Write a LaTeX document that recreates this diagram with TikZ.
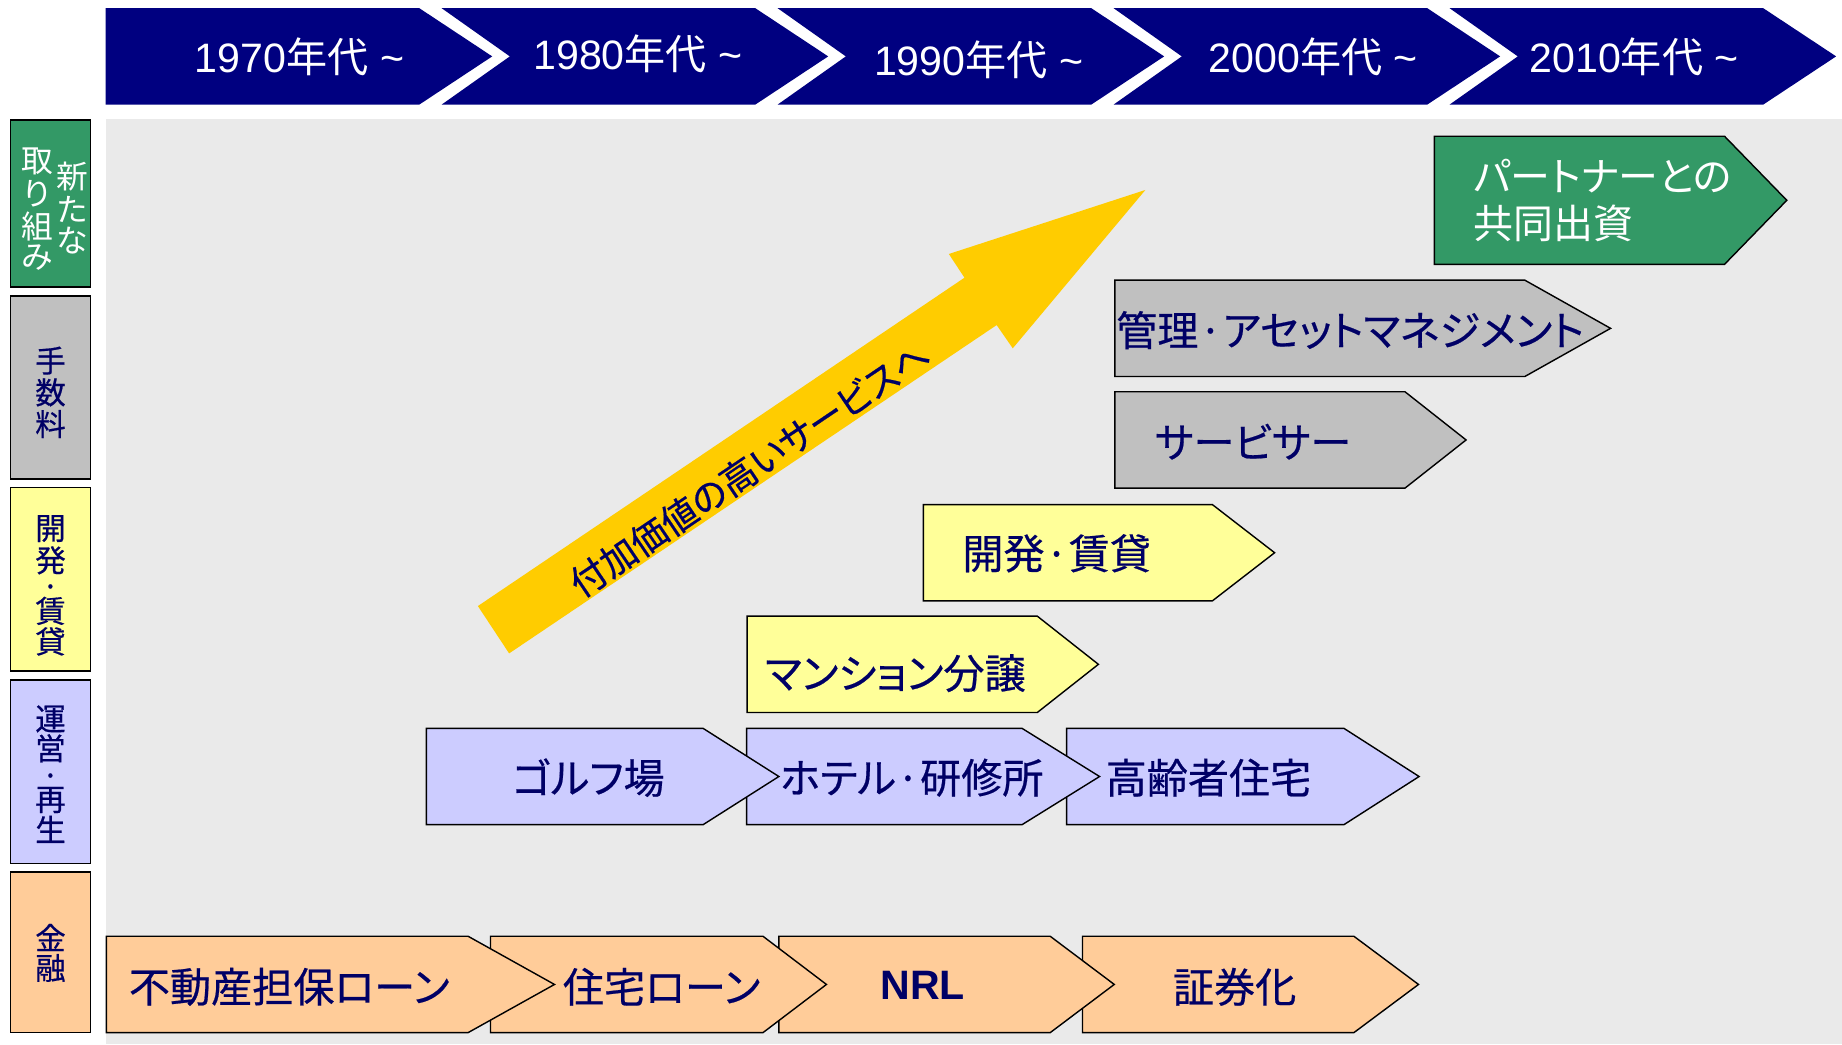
\documentclass[tikz,border=0pt]{standalone}
\usepackage{fontspec}
\newfontfamily\jp[RawFeature=+palt]{Noto Sans CJK JP}
\newfontfamily\jpb[RawFeature=+palt,FakeBold=0.5]{Noto Sans CJK JP}
\newfontfamily\jpv[FakeBold=0.5]{Noto Sans CJK JP}
\newfontfamily\jpw{Noto Sans CJK JP}
\newfontfamily\arl{Liberation Sans}
\definecolor{navy}{HTML}{000080}
\definecolor{txt}{HTML}{000066}
\definecolor{bgg}{HTML}{EAEAEA}
\definecolor{grn}{HTML}{339966}
\definecolor{gry}{HTML}{C0C0C0}
\definecolor{ylw}{HTML}{FFFF99}
\definecolor{lav}{HTML}{CCCCFF}
\definecolor{org}{HTML}{FFCC99}
\definecolor{arw}{HTML}{FFCC00}
% pentagon chevron: x0, x1 (body right), x2 (tip), y0, y1, style
\newcommand\pent[6]{\draw[#6] (#1,#4) -- (#2,#4) -- (#3,{(#4+#5)/2}) -- (#2,#5) -- (#1,#5) -- cycle;}
% header chevron: left x, notch depth
\newcommand\hchev[2]{\fill[navy] (#1,7) -- ({#1+267},7) -- ({#1+329},48) -- ({#1+267},89) -- (#1,89) -- ({#1+#2},48) -- cycle;}
\newcommand\mdot{\hspace{0.5pt}·\hspace{0.5pt}}
\tikzset{
  box/.style={draw=black, line width=1.2pt},
  catbox/.style={draw=black, line width=1.5pt},
  lbl/.style={font=\jpb\fontsize{35}{40}\selectfont, text=txt, inner sep=0pt},
  wlbl/.style={font=\jp\fontsize{34}{40}\selectfont, text=white, inner sep=0pt},
  vch/.style={font=\jpv\fontsize{26}{26}\selectfont, text=txt, inner sep=0pt},
  vchw/.style={font=\jpw\fontsize{27}{27}\selectfont, text=white, inner sep=0pt},
  hd/.style={text=white, inner sep=0pt, font=\fontsize{35}{40}\selectfont},
}
\newcommand\yr[1]{{\arl #1}{\jp 年代}{\arl\space\textasciitilde}}
\begin{document}
\begin{tikzpicture}[x=1pt,y=-1pt]
\useasboundingbox (0,0) rectangle (1568,889);
\fill[white] (0,0) rectangle (1568,889);
% gray content area
\fill[bgg] (90,101) rectangle (1568,889);

% header
\hchev{90}{0}
\hchev{376}{58}
\hchev{662}{58}
\hchev{948}{58}
\hchev{1234}{58}
\node[hd] (h1970) at (255,48) {\yr{1970}};
\node[hd] (h1980) at (543,46) {\yr{1980}};
\node[hd] (h1990) at (833,51) {\yr{1990}};
\node[hd] (h2000) at (1118,48) {\yr{2000}};
\node[hd] (h2010) at (1391,48) {\yr{2010}};

% category boxes
\draw[catbox, fill=grn] (9,102) rectangle (77,244);
\draw[catbox, fill=gry] (9,252) rectangle (77,408);
\draw[catbox, fill=ylw] (9,415) rectangle (77,571);
\draw[catbox, fill=lav] (9,579) rectangle (77,735);
\draw[catbox, fill=org] (9,742) rectangle (77,879);

\foreach \c/\y [count=\i] in {新/150, た/178, な/205}
  \node[vchw, name=newa\i] at (62,\y) {\c};
\foreach \c/\y [count=\i] in {取/137.5, り/165, 組/192.5, み/219}
  \node[vchw, name=newb\i] at (32,\y) {\c};
\foreach \c/\y [count=\i] in {手/307, 数/334, 料/361}
  \node[vch, name=fee\i] at (43,\y) {\c};
\foreach \c/\y [count=\i] in {開/450, 発/477, ·/503, 賃/520, 貸/546}
  \node[vch, name=dev\i] at (43,\y) {\c};
\foreach \c/\y [count=\i] in {運/612, 営/637, ·/664, 再/681, 生/706}
  \node[vch, name=ops\i] at (43,\y) {\c};
\foreach \c/\y [count=\i] in {金/798, 融/824}
  \node[vch, name=fin\i] at (43,\y) {\c};

% big arrow
\fill[arw] (406.8,515.9) -- (821,236.4) -- (807.7,216.2) -- (975,161.7)
  -- (862.1,296.5) -- (848.4,276.7) -- (433.4,556.2) -- cycle;
\node[font=\jpb\fontsize{31}{36}\selectfont, text=txt, inner sep=0pt, rotate=34] (arrowtxt) at (638,399) {付加価値の高いサービスへ};

% new initiatives
\pent{1221}{1468}{1521}{116}{225}{box, fill=grn}
\node[wlbl, anchor=west] (partner1) at (1254,150) {パートナーとの};
\node[wlbl, anchor=west] (partner2) at (1254,190) {共同出資};

% fees
\pent{949}{1298}{1371}{238.5}{320.5}{box, fill=gry}
\node[lbl, anchor=west] (am) at (950,281) {管理\mdot アセットマネジメント};
\pent{949}{1196}{1248}{333.5}{415.5}{box, fill=gry}
\node[lbl, anchor=west] (servicer) at (983,376) {サービサー};

% development / leasing
\pent{786}{1032}{1085}{429.5}{511.5}{box, fill=ylw}
\node[lbl, anchor=west] (devlease) at (819,471) {開発\mdot 賃貸};
\pent{636}{883}{935}{524.5}{606.5}{box, fill=ylw}
\node[lbl, anchor=west] (condo) at (651,573) {マンション分譲};

% operations (drawn right to left)
\pent{908}{1144}{1208}{620}{702}{box, fill=lav}
\pent{635.5}{870}{936}{620}{702}{box, fill=lav}
\pent{363}{598.5}{663}{620}{702}{box, fill=lav}
\node[lbl] (golf) at (501,662) {ゴルフ場};
\node[lbl, anchor=west] (hotel) at (664,662) {ホテル\mdot 研修所};
\node[lbl, anchor=west] (senior) at (941,662) {高齢者住宅};

% finance (drawn right to left)
\pent{921.5}{1152.5}{1207.5}{797}{879}{box, fill=org}
\pent{663}{894}{948.5}{797}{879}{box, fill=org}
\pent{417.5}{649.5}{703.5}{797}{879}{box, fill=org}
\pent{90.5}{398.5}{472}{797}{879}{box, fill=org}
\node[lbl, anchor=west] (reloan) at (109.5,840) {不動産担保ローン};
\node[lbl, anchor=west] (homeloan) at (479,840) {住宅ローン};
\node[lbl, font=\arl\bfseries\fontsize{35}{40}\selectfont] (nrl) at (785.5,838.5) {NRL};
\node[lbl] (sec) at (1051,840) {証券化};
\end{tikzpicture}
\end{document}
